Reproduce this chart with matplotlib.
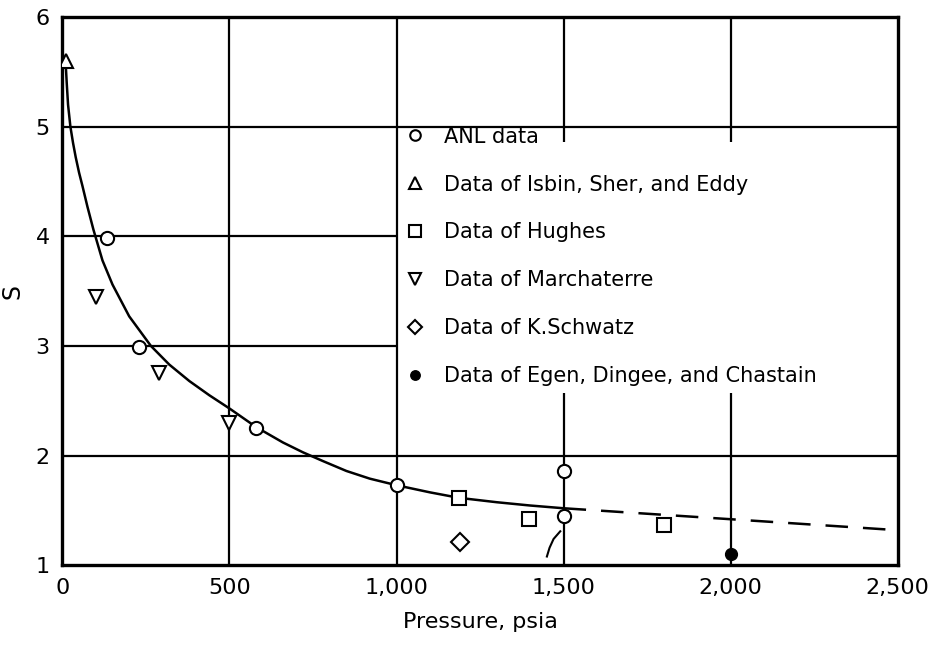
import numpy as np
import matplotlib
matplotlib.use("Agg")
import matplotlib.pyplot as plt

# ---- data ----
anl_p = [135, 230, 580, 1000, 1500, 1500]
anl_s = [3.98, 2.99, 2.25, 1.73, 1.86, 1.45]

isbin_p = [10]
isbin_s = [5.6]

hughes_p = [1187, 1395, 1800]
hughes_s = [1.61, 1.42, 1.37]

march_p = [100, 290, 500]
march_s = [3.45, 2.75, 2.30]

schwatz_p = [1190]
schwatz_s = [1.21]

egen_p = [2000]
egen_s = [1.10]

# correlation curve: solid part, then dashed extrapolation
curve_p = [10, 13, 17, 24, 32, 40, 50, 60, 75, 93, 120, 150, 200, 265, 320, 380, 440,
           500, 580, 660, 720, 780, 850, 920, 1000, 1100, 1187, 1300, 1400, 1500]
curve_s = [5.57, 5.4, 5.2, 5.0, 4.85, 4.72, 4.58, 4.46, 4.27, 4.06, 3.78, 3.56, 3.27,
           3.0, 2.83, 2.68, 2.55, 2.43, 2.26, 2.12, 2.03, 1.95, 1.86, 1.79, 1.73,
           1.665, 1.615, 1.575, 1.545, 1.52]
dash_p = [1500, 1750, 2000, 2250, 2500]
dash_s = [1.52, 1.47, 1.42, 1.37, 1.32]

# small hand-drawn leader stroke near 1500 psia
stroke_p = [1450, 1458, 1470, 1490]
stroke_s = [1.08, 1.16, 1.24, 1.31]

x_ticks = [0, 500, 1000, 1500, 2000, 2500]
x_labels = ["0", "500", "1,000", "1,500", "2,000", "2,500"]
y_ticks = [1, 2, 3, 4, 5, 6]

fig = plt.figure(figsize=(9.45, 6.52), dpi=100)
ax = fig.add_axes([0.066, 0.133, 0.884, 0.841])
ax.set_xlim(0, 2500)
ax.set_ylim(1, 6)

lw_grid = 1.6
# grid, with the area behind the legend left blank
for xv in [500, 1000]:
    ax.vlines(xv, 1, 6, color="black", lw=lw_grid, zorder=1)
for xv in [1500, 2000]:
    ax.vlines(xv, 1, 2.57, color="black", lw=lw_grid, zorder=1)
    ax.vlines(xv, 4.86, 6, color="black", lw=lw_grid, zorder=1)
for yv in [2, 5]:
    ax.hlines(yv, 0, 2500, color="black", lw=lw_grid, zorder=1)
for yv in [3, 4]:
    ax.hlines(yv, 0, 1000, color="black", lw=lw_grid, zorder=1)

ax.plot(curve_p, curve_s, color="black", lw=1.8, zorder=2)
ax.plot(dash_p, dash_s, color="black", lw=1.8, dashes=(9, 6), zorder=2)
ax.plot(stroke_p, stroke_s, color="black", lw=1.5, zorder=2)

mk = dict(linestyle="none", markerfacecolor="white", markeredgecolor="black",
          markeredgewidth=1.5, zorder=3)
ax.plot(anl_p, anl_s, marker="o", markersize=9.5, label="ANL data", **mk)
ax.plot(isbin_p, isbin_s, marker="^", markersize=10, label="Data of Isbin, Sher, and Eddy", **mk)
ax.plot(hughes_p, hughes_s, marker="s", markersize=10, label="Data of Hughes", **mk)
ax.plot(march_p, march_s, marker="v", markersize=10, label="Data of Marchaterre", **mk)
ax.plot(schwatz_p, schwatz_s, marker="D", markersize=9, label="Data of K.Schwatz", **mk)
ax.plot(egen_p, egen_s, marker="o", markersize=8.5, linestyle="none", color="black",
        label="Data of Egen, Dingee, and Chastain", zorder=3)

leg = ax.legend(loc="upper left", bbox_to_anchor=(1023, 5.0), bbox_transform=ax.transData,
                frameon=False, borderpad=0, borderaxespad=0, handlelength=1.0,
                handletextpad=0.9, labelspacing=1.34, markerscale=0.8,
                prop={"size": 15})

for s in ax.spines.values():
    s.set_linewidth(2.4)

ax.set_xticks(x_ticks)
ax.set_xticklabels(x_labels)
ax.set_yticks(y_ticks)
ax.tick_params(length=0, pad=9, labelsize=16)

ax.set_xlabel("Pressure, psia", fontsize=16, labelpad=10)
ax.set_ylabel("S", fontsize=17, labelpad=8)

fig.savefig("out.png", dpi=100)
